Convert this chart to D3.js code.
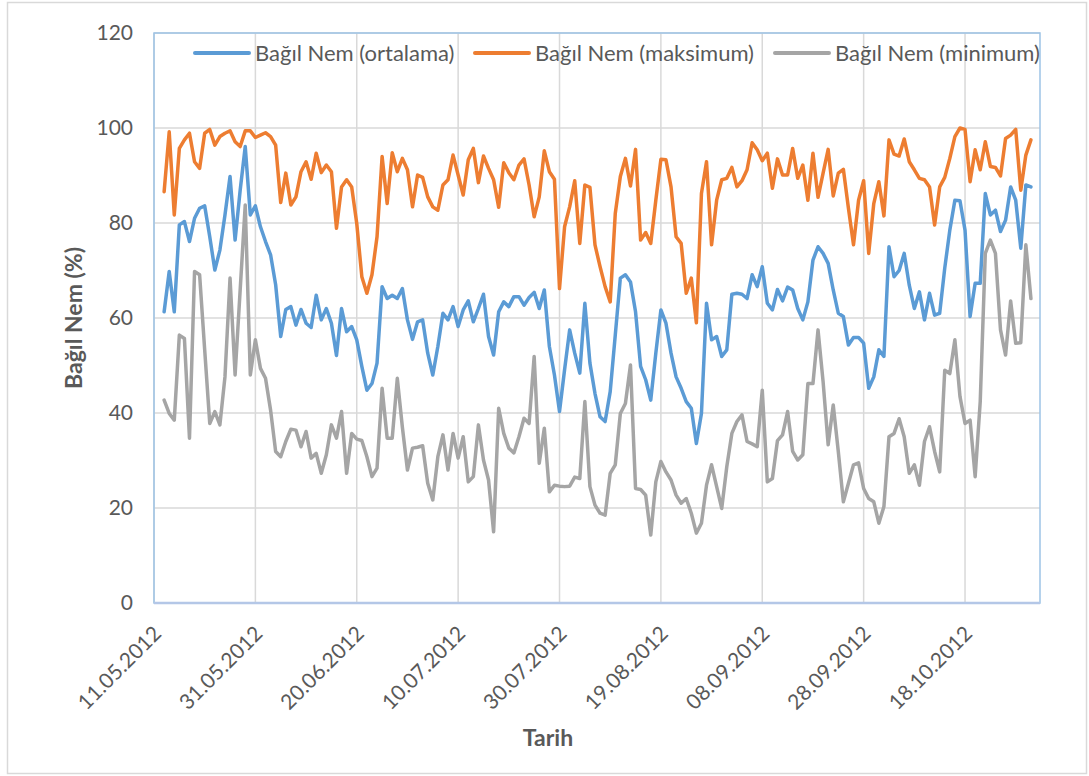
<!DOCTYPE html>
<html>
<head>
<meta charset="utf-8">
<script src="https://cdn.jsdelivr.net/npm/d3@7"></script>
<style>
  body { margin: 0; background: #fff; }
  text { font-family: Lato, "Open Sans", sans-serif; fill: #595959; }
</style>
</head>
<body>
<div id="chart"></div>
<script>
// ilk ölçüm günü, ardından her gün bir değer
const firstDay = "13.05.2012";
const tickLabels = ["11.05.2012", "31.05.2012", "20.06.2012", "10.07.2012", "30.07.2012",
                    "19.08.2012", "08.09.2012", "28.09.2012", "18.10.2012"];
const yTicks = [0, 20, 40, 60, 80, 100, 120];
const seriesNames = ["Bağıl Nem (ortalama)", "Bağıl Nem (maksimum)", "Bağıl Nem (minimum)"];

const ortalama = [
  61.3, 69.8, 61.3, 79.6, 80.3, 76.1, 81, 83.1, 83.6, 77.1, 70.1, 74.3, 81.7, 89.8, 76.4, 86.9, 96.1, 81.7, 83.6, 79.2, 76.1, 73.3, 67,
  56.1, 61.8, 62.4, 58.5, 61.8, 58.9, 58, 64.8, 59.6, 62, 58.9, 52.1, 62, 57.1, 58.2, 55.4, 49.8, 44.8, 46.2, 50.5, 66.6, 64.1, 64.8, 64.1, 66.2,
  59.6, 55.5, 59.2, 59.6, 52.6, 48, 54, 61, 59.6, 62.4, 58.2, 61.7, 63.6, 59.2, 62, 65, 56.1, 52.2, 61.3, 63.4, 62.4, 64.5, 64.5, 62.7, 64.3,
  65.4, 62, 65.9, 54, 48, 40.3, 49.1, 57.5, 52.6, 48.4, 63.1, 50.5, 44.1, 39.2, 38.2, 44.5, 56.4, 68.4, 69.1, 67.6, 61.3, 49.8, 47, 42.7,
  52.6, 61.7, 58.9, 52.6, 47.6, 45.2, 42.4, 41, 33.6, 39.9, 63.1, 55.4, 56.1, 51.9, 53.3, 65, 65.2, 65, 64.1, 69.1, 66.6, 70.8, 63.1, 61.7, 66,
  63.6, 66.5, 65.9, 62, 59.6, 63.4, 72.2, 75, 73.6, 71.5, 65.9, 61, 60.3, 54.3, 55.9, 55.9, 54.7, 45.2, 47.6, 53.3, 51.9, 75, 68.7, 70, 73.6,
  66.9, 62, 65.5, 59.6, 65.2, 60.6, 61, 70.5, 78.5, 84.8, 84.7, 78.5, 60.3, 67.3, 67.3, 86.2, 81.7, 82.7, 78.2, 80.6, 87.6, 84.8, 74.7, 88, 87.6
];
const maksimum = [
  86.6, 99.2, 81.7, 95.7, 97.5, 98.9, 92.9, 91.5, 98.9, 99.7, 96.4, 98.2, 98.9, 99.4, 97.1, 96.1, 99.4, 99.4, 98, 98.5, 99, 98.2, 96.4,
  84.3, 90.5, 83.8, 85.5, 90.8, 92.9, 89.2, 94.7, 90.6, 92.2, 90.8, 78.9, 87.6, 89.1, 87.6, 79.9, 68.7, 65.2, 69.1, 77.1, 94, 84.1, 94.8, 90.8, 93.6,
  91.2, 83.4, 90.1, 89.6, 85.5, 83.4, 82.7, 88, 89.1, 94.3, 90.1, 85.9, 93.3, 95.7, 88.5, 94.1, 91.5, 89.1, 83.3, 92.7, 90.6, 89.1, 92.2, 93.5, 88,
  81.3, 85.5, 95.2, 90.8, 89.2, 66.2, 79.2, 83.4, 88.9, 75.7, 88, 87.5, 75.4, 70.8, 66.6, 63.4, 82, 89.8, 93.6, 87.8, 95.5, 76.4, 78, 75.7,
  84.8, 93.4, 93.3, 87.6, 77.1, 75.7, 65.2, 68.4, 59, 86.2, 92.9, 75.4, 84.8, 89.1, 89.4, 91.7, 87.6, 88.9, 91.2, 96.9, 95.4, 93.1, 94.7, 87.3, 93.5,
  90.1, 90.1, 95.7, 89.4, 92.2, 84.8, 94.7, 85.4, 90.5, 95.5, 85.7, 90.5, 91.3, 83.1, 75.4, 84.8, 88.9, 73.6, 84.1, 88.7, 81.5, 97.5, 94.5, 94.1, 97.7,
  92.9, 91.2, 89.4, 89.1, 87.6, 79.6, 87.6, 89.6, 93.6, 98.2, 100, 99.7, 88.7, 95.4, 91.2, 97.1, 91.9, 91.7, 89.9, 97.8, 98.5, 99.7, 86.9, 94.3, 97.5
];
const minimum = [
  42.7, 39.9, 38.5, 56.4, 55.7, 34.7, 69.8, 69.1, 53.3, 37.8, 40.3, 37.5, 47.6, 68.4, 48, 65.9, 83.8, 48, 55.4, 49.4, 47.3, 40.6, 31.9,
  30.8, 34, 36.6, 36.4, 32.9, 36.1, 30.5, 31.5, 27.3, 31.2, 37.5, 34.7, 40.3, 27.3, 35.7, 34.5, 34.2, 30.8, 26.6, 28.4, 45.2, 34.7, 34.7, 47.3, 37,
  28, 32.6, 32.8, 33.1, 25.2, 21.7, 30.8, 35.4, 28, 35.7, 30.5, 35, 25.5, 26.6, 37.5, 30.1, 25.9, 15, 41, 35.7, 32.6, 31.6, 35, 38.9, 37.8,
  51.9, 29.4, 36.8, 23.4, 24.8, 24.6, 24.5, 24.6, 26.5, 26.2, 42.4, 24.5, 20.6, 18.9, 18.5, 27.3, 29.1, 39.9, 42, 50.1, 24.1, 23.9, 22.7, 14.3,
  25.5, 29.8, 27.6, 25.9, 22.7, 21, 22, 18.9, 14.7, 16.8, 24.8, 29.1, 24.5, 19.9, 28.7, 35.7, 38.2, 39.6, 34, 33.5, 32.9, 44.8, 25.5, 26.2, 34.2,
  35.4, 40.3, 31.9, 30.1, 31.2, 46.2, 46.2, 57.5, 46.6, 33.3, 41.7, 31.9, 21.3, 25.2, 29.1, 29.5, 24.1, 22, 21.3, 16.8, 20.3, 35, 35.7, 38.8, 35,
  27.3, 29.1, 24.8, 34, 37.1, 31.9, 27.6, 49, 48.3, 55.4, 43.5, 37.8, 38.5, 26.6, 42.4, 73.6, 76.4, 73.6, 57.5, 52.2, 63.6, 54.7, 54.8, 75.4, 64.1
];

const colors = ["#5B9BD5", "#ED7D31", "#A5A5A5"];

const width = 1089, height = 776;
const margin = { top: 33, right: 49, bottom: 173, left: 154 };
const w = width - margin.left - margin.right;
const h = height - margin.top - margin.bottom;

const parse = d3.utcParse("%d.%m.%Y");
const fmt = d3.utcFormat("%d.%m.%Y");
const start = parse(firstDay);
const dates = ortalama.map((d, i) => d3.utcDay.offset(start, i));
const tickDates = tickLabels.map(parse);

// Excel ekseni son tarihten biraz sonra bitiyor
const axisEnd = d3.utcHour.offset(tickDates[0], Math.round(174.8 * 24));

const x = d3.scaleUtc().domain([tickDates[0], axisEnd]).range([0, w]);
const y = d3.scaleLinear().domain([0, 120]).range([h, 0]);

const svg = d3.select("#chart").append("svg")
    .attr("width", width)
    .attr("height", height);

// dış çerçeve
svg.append("rect")
    .attr("x", 7.5).attr("y", 2.5)
    .attr("width", width - 10).attr("height", height - 5)
    .attr("fill", "#fff")
    .attr("stroke", "#d9d9d9")
    .attr("stroke-width", 1.5);

const g = svg.append("g").attr("transform", `translate(${margin.left},${margin.top})`);

// ızgara
g.append("g").selectAll("line")
    .data(yTicks).enter().append("line")
    .attr("x1", 0).attr("x2", w)
    .attr("y1", d => y(d)).attr("y2", d => y(d))
    .attr("stroke", "#d9d9d9").attr("stroke-width", 1.5);

g.append("g").selectAll("line")
    .data(tickDates).enter().append("line")
    .attr("x1", d => x(d)).attr("x2", d => x(d))
    .attr("y1", 0).attr("y2", h)
    .attr("stroke", "#d9d9d9").attr("stroke-width", 1.5);

// çizim alanı kenarı
g.append("rect")
    .attr("x", 0).attr("y", 0).attr("width", w).attr("height", h)
    .attr("fill", "none")
    .attr("stroke", "#9dc3e6")
    .attr("stroke-width", 1.5);
g.append("line")
    .attr("x1", 0).attr("x2", w).attr("y1", h).attr("y2", h)
    .attr("stroke", "#b4c7e7").attr("stroke-width", 2.5);

// eksenler
const yAxis = g.append("g")
    .call(d3.axisLeft(y).tickValues(yTicks).tickSize(0).tickPadding(21));
yAxis.select(".domain").remove();
yAxis.selectAll("text")
    .style("font-size", "21px")
    .style("fill", "#595959");

const xAxis = g.append("g")
    .attr("transform", `translate(0,${h})`)
    .call(d3.axisBottom(x).tickValues(tickDates).tickFormat(fmt).tickSize(0));
xAxis.select(".domain").remove();
xAxis.selectAll("text")
    .attr("text-anchor", "end")
    .attr("dy", null)
    .attr("y", null)
    .attr("transform", "translate(8,32) rotate(-45)")
    .style("font-size", "21px")
    .style("fill", "#595959");

// seriler
const line = d3.line()
    .x((d, i) => x(dates[i]))
    .y(d => y(d));

[ortalama, maksimum, minimum].forEach((values, k) => {
    g.append("path")
        .datum(values)
        .attr("fill", "none")
        .attr("stroke", colors[k])
        .attr("stroke-width", 3.5)
        .attr("stroke-linejoin", "round")
        .attr("stroke-linecap", "round")
        .attr("d", line);
});

// lejant
const legendX = [195, 475, 775];
const legend = svg.append("g");
seriesNames.forEach((name, k) => {
    legend.append("line")
        .attr("x1", legendX[k]).attr("x2", legendX[k] + 54)
        .attr("y1", 53).attr("y2", 53)
        .attr("stroke", colors[k])
        .attr("stroke-width", 4)
        .attr("stroke-linecap", "round");
    legend.append("text")
        .attr("x", legendX[k] + 60)
        .attr("y", 61)
        .style("font-size", "22px")
        .text(name);
});

// eksen başlıkları
svg.append("text")
    .attr("text-anchor", "middle")
    .attr("transform", `translate(82,${margin.top + h / 2}) rotate(-90)`)
    .style("font-size", "23px")
    .style("font-weight", "700")
    .text("Bağıl Nem (%)");

svg.append("text")
    .attr("text-anchor", "middle")
    .attr("x", 548)
    .attr("y", 746)
    .style("font-size", "23px")
    .style("font-weight", "700")
    .text("Tarih");
</script>
</body>
</html>
